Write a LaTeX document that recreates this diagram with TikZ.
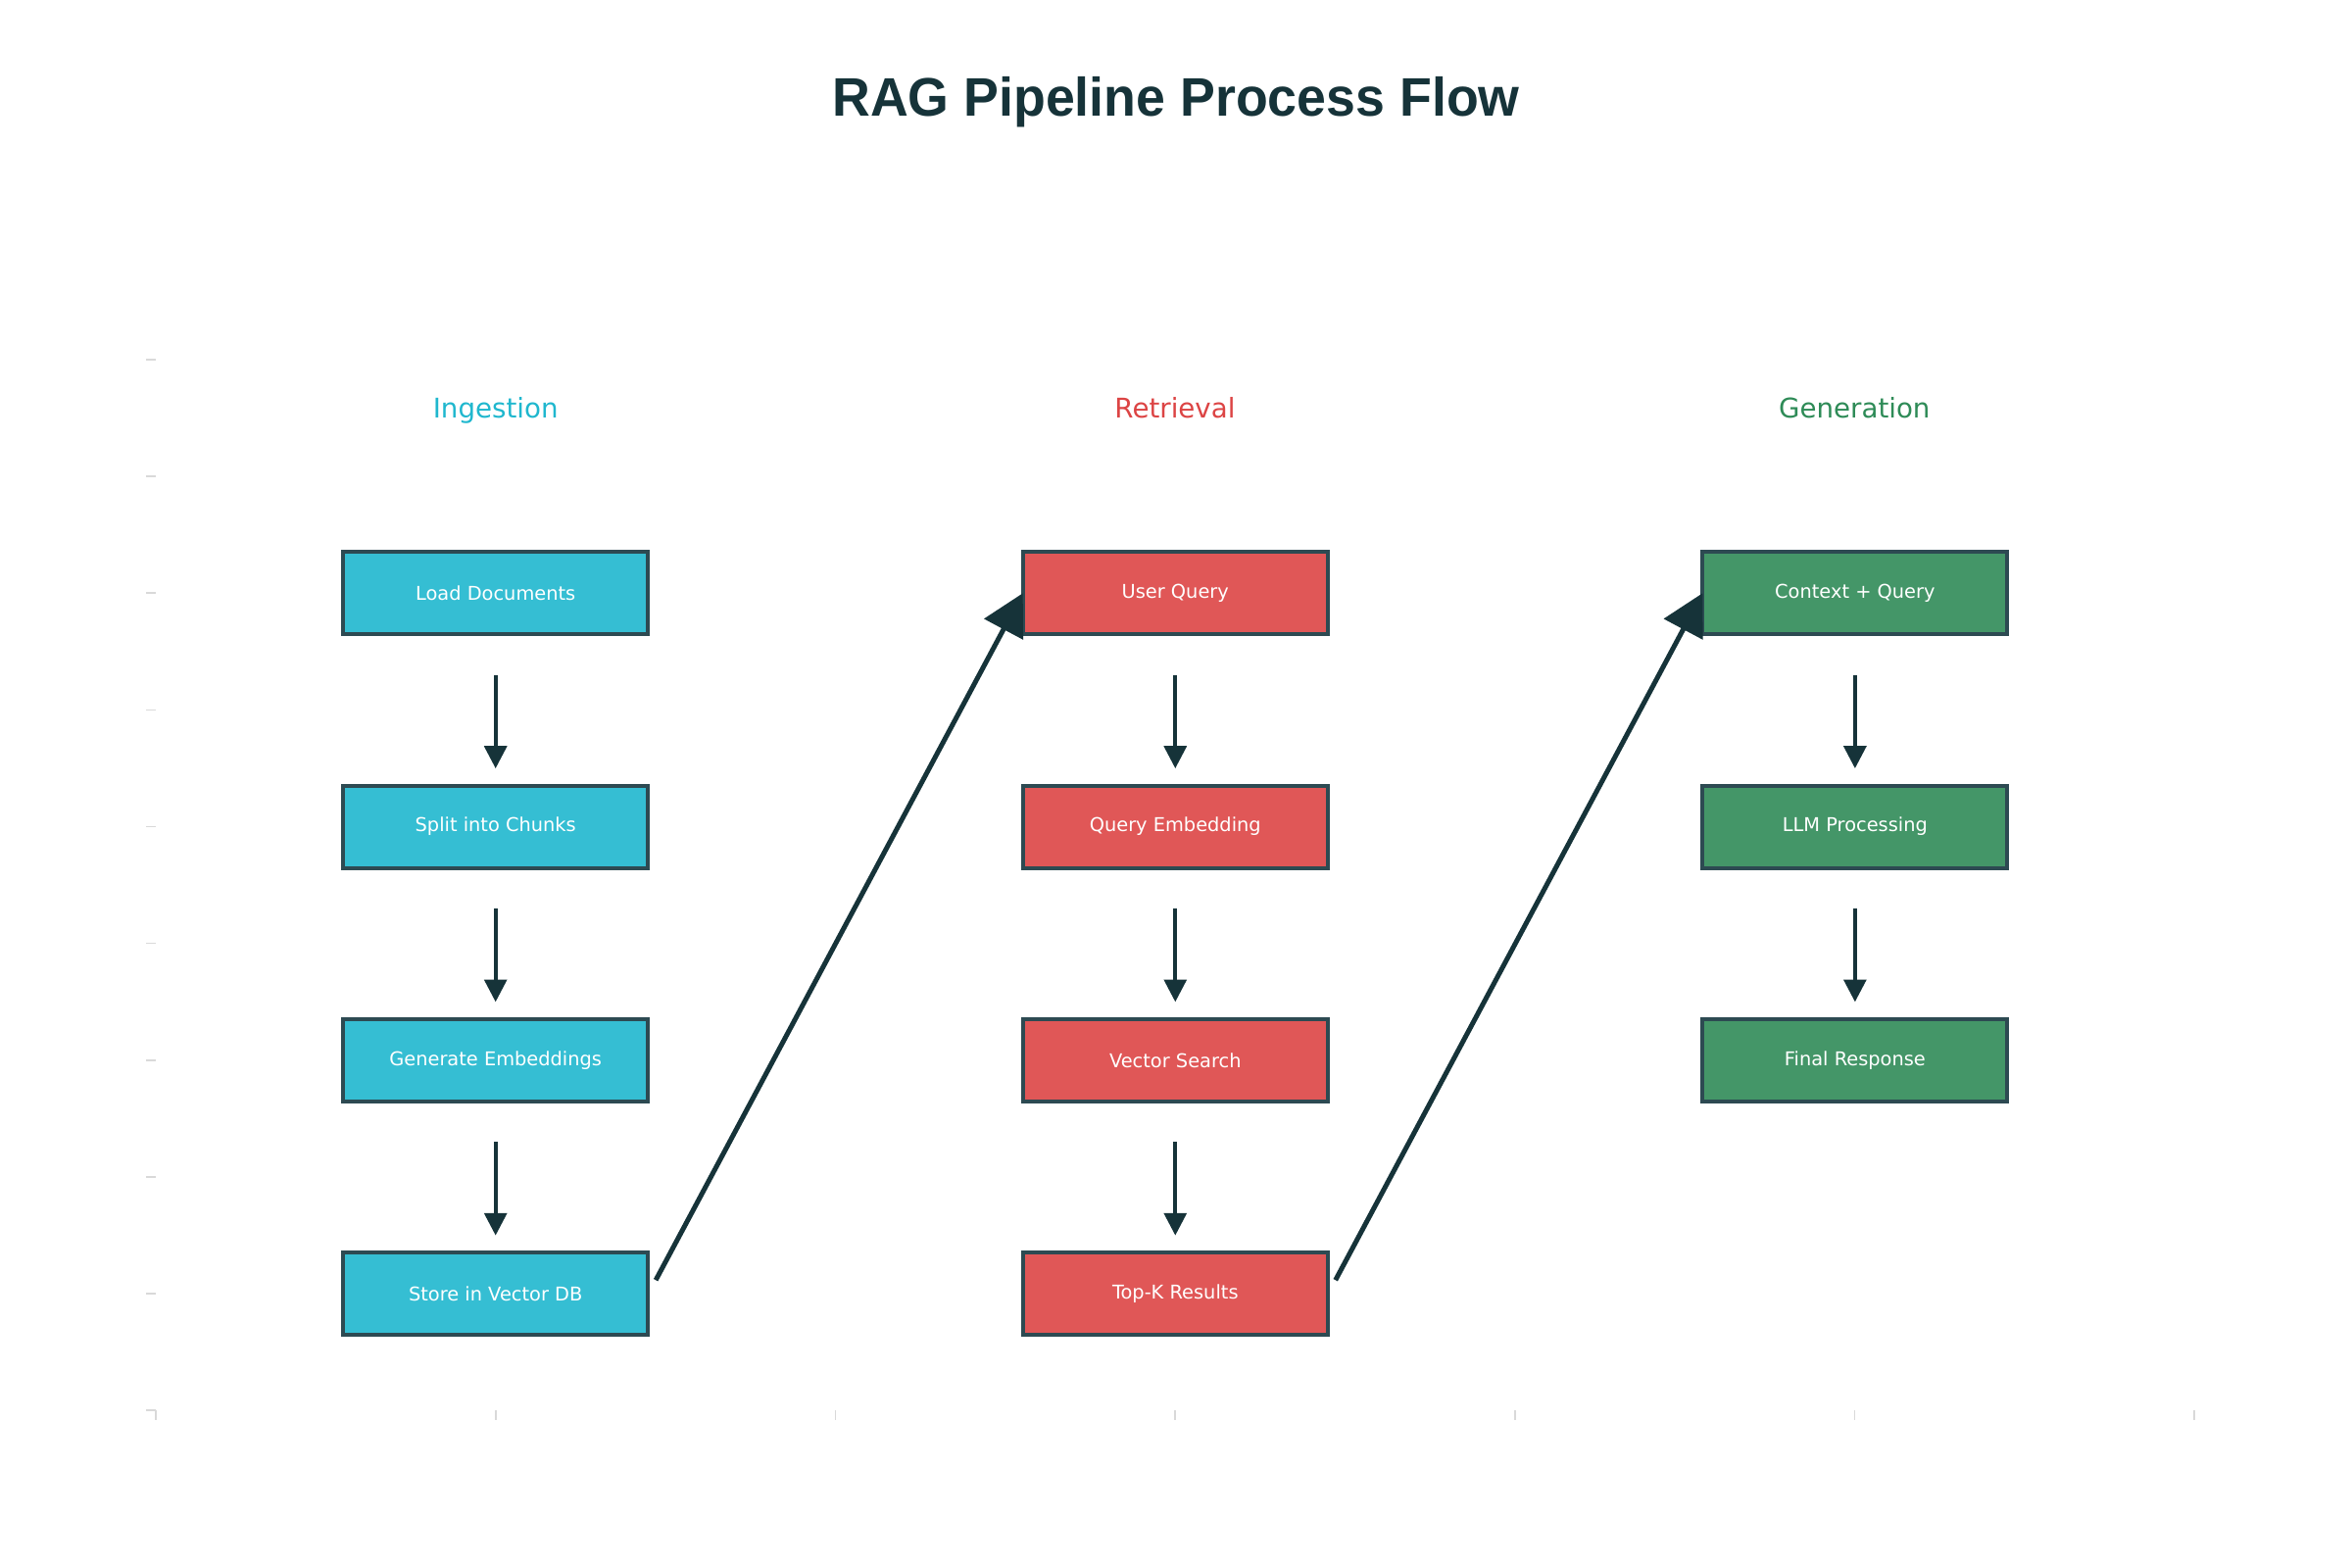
\documentclass[tikz,border=0pt]{standalone}
\usepackage{fontspec}
\setmainfont{DejaVu Sans}
\newfontfamily\titlefont[FakeStretch=0.97]{Liberation Sans}
\usepackage{xcolor}
\usetikzlibrary{arrows.meta, positioning}

\definecolor{ink}{HTML}{163339}
\definecolor{edge}{HTML}{2D4A52}
\definecolor{ingfill}{HTML}{35BED3}
\definecolor{ingtext}{HTML}{1FB7CE}
\definecolor{retfill}{HTML}{E05757}
\definecolor{rettext}{HTML}{DC4444}
\definecolor{genfill}{HTML}{449668}
\definecolor{gentext}{HTML}{2E8B57}

\begin{document}
\begin{tikzpicture}[
    x=0.0127cm, y=-0.0127cm,
    node distance=1.958cm and 4.855cm,
    box/.style={rectangle, draw=edge, line width=1.45pt, minimum width=3.95cm,
                minimum height=1.067cm, inner sep=0pt, outer sep=0pt,
                text=white, font=\fontsize{7}{8}\selectfont},
    sec/.style={anchor=base, font=\fontsize{10}{12}\selectfont},
    flowarr/.style={-{Triangle[length=0.29cm, width=0.29cm]}, line width=1.3pt, draw=ink,
                    shorten <=0.526cm, shorten >=0.222cm},
    hoparr/.style={-{Triangle[length=0.53cm, width=0.56cm]}, line width=1.8pt, draw=ink},
    axtick/.style={draw=gray!30, line width=0.6pt}
]
\useasboundingbox (0,0) rectangle (2400,1600);

% Title
\node[anchor=base, text=ink, font={\titlefont\bfseries\fontsize{20}{24}\selectfont}]
    (title) at (1200,119) {RAG Pipeline Process Flow};

% Stage labels
\node[sec, text=ingtext] (ingest) at (505.7,426)  {Ingestion};
\node[sec, text=rettext] (retr)   at (1199,426)   {Retrieval};
\node[sec, text=gentext] (gen)    at (1892.3,426) {Generation};

% Ingestion column
\node[box, fill=ingfill] (load) at (505.7,605.3) {Load Documents};
\node[box, fill=ingfill, below=of load]  (split) {Split into Chunks};
\node[box, fill=ingfill, below=of split] (embed) {Generate Embeddings};
\node[box, fill=ingfill, below=of embed] (store) {Store in Vector DB};

% Retrieval column
\node[box, fill=retfill, right=of load]    (query)  {User Query};
\node[box, fill=retfill, below=of query]   (qembed) {Query Embedding};
\node[box, fill=retfill, below=of qembed]  (search) {Vector Search};
\node[box, fill=retfill, below=of search]  (topk)   {Top-K Results};

% Generation column
\node[box, fill=genfill, right=of query] (ctx)   {Context + Query};
\node[box, fill=genfill, below=of ctx]   (llm)   {LLM Processing};
\node[box, fill=genfill, below=of llm]   (final) {Final Response};

% Arrows inside stages
\draw[flowarr] (load)   -- (split);
\draw[flowarr] (split)  -- (embed);
\draw[flowarr] (embed)  -- (store);
\draw[flowarr] (query)  -- (qembed);
\draw[flowarr] (qembed) -- (search);
\draw[flowarr] (search) -- (topk);
\draw[flowarr] (ctx)    -- (llm);
\draw[flowarr] (llm)    -- (final);

% Arrows between stages
\draw[hoparr] ([xshift=0.1cm, yshift=0.177cm]store.east) -- (query.west);
\draw[hoparr] ([xshift=0.1cm, yshift=0.177cm]topk.east)  -- (ctx.west);

% Axis ticks
\foreach \k in {0,...,9}
    \draw[axtick] (149,{1439-119.1*\k}) -- (159,{1439-119.1*\k});
\foreach \k in {0,...,6}
    \draw[axtick] ({159+346.67*\k},1439) -- ({159+346.67*\k},1449);
\end{tikzpicture}
\end{document}
